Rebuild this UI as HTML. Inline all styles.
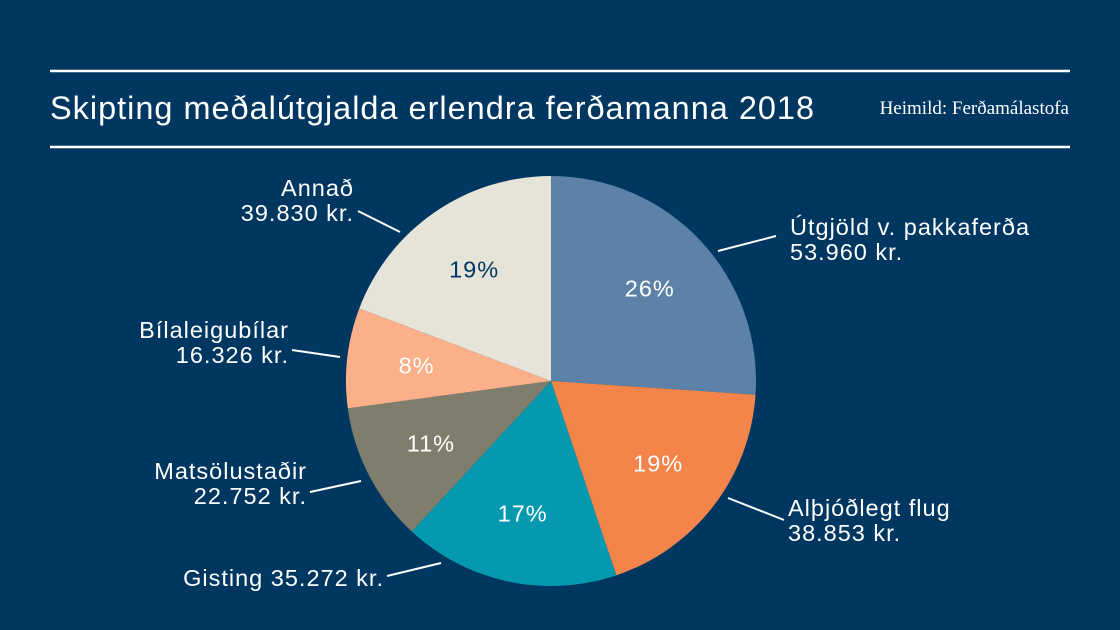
<!DOCTYPE html>
<html><head><meta charset="utf-8"><style>
body{margin:0;background:#003761;width:1120px;height:630px;overflow:hidden}
svg{display:block}
</style></head><body>
<svg width="1120" height="630">
<rect width="1120" height="630" fill="#003761"/>
<line x1="50" y1="71" x2="1070" y2="71" stroke="#fff" stroke-width="2.5"/>
<line x1="50" y1="147" x2="1070" y2="147" stroke="#fff" stroke-width="2.5"/>
<text x="50" y="119" fill="#fff" font-family="Liberation Sans, sans-serif" font-size="32" letter-spacing="1" textLength="765" lengthAdjust="spacingAndGlyphs">Skipting meðalútgjalda erlendra ferðamanna 2018</text>
<text x="1069" y="114" fill="#fff" text-anchor="end" font-family="Liberation Serif, serif" font-size="19">Heimild: Ferðamálastofa</text>
<g id="pie"></g>
<g id="labels" font-family="Liberation Sans, sans-serif" font-size="23.5" letter-spacing="1" fill="#fff"></g>
</svg>
<script>
const categories=["Útgjöld v. pakkaferða","Alþjóðlegt flug","Gisting","Matsölustaðir","Bílaleigubílar","Annað"];
const values=[53960,38853,35272,22752,16326,39830];
const valueLabels=["53.960 kr.","38.853 kr.","35.272 kr.","22.752 kr.","16.326 kr.","39.830 kr."];
const colors=["#5c83a7","#f4854a","#0499ae","#7f7e6c","#fbb089","#e6e3d8"];
const pctColors=["#fff","#fff","#fff","#fff","#fff","#003761"];
const cx=551,cy=381,R=205;
const ns="http://www.w3.org/2000/svg";
const total=values.reduce((a,b)=>a+b,0);
const pie=document.getElementById('pie'),lab=document.getElementById('labels');
function pt(a,r){return [cx+r*Math.sin(a),cy-r*Math.cos(a)];}
let a0=0;
values.forEach((v,i)=>{
 const a1=a0+v/total*2*Math.PI;
 const p0=pt(a0,R),p1=pt(a1,R);
 const p=document.createElementNS(ns,'path');
 p.setAttribute('d',`M${cx},${cy}L${p0[0]},${p0[1]}A${R},${R} 0 ${a1-a0>Math.PI?1:0} 1 ${p1[0]},${p1[1]}Z`);
 p.setAttribute('fill',colors[i]);
 
 
 pie.appendChild(p);
 const m=(a0+a1)/2,c=pt(m,R*0.66);
 const t=document.createElementNS(ns,'text');
 t.setAttribute('x',c[0]);t.setAttribute('y',c[1]+8);
 t.setAttribute('text-anchor','middle');t.setAttribute('fill',pctColors[i]);
 t.textContent=Math.round(v/total*100)+'%';
 
 
 lab.appendChild(t);
 a0=a1;
});
const ext=[
 {lines:[categories[0],valueLabels[0]],anchor:'start',x:790,y:235,l:[718,251,776,236]},
 {lines:[categories[1],valueLabels[1]],anchor:'start',x:788,y:516,l:[728,498,784,520]},
 {lines:[categories[2]+' '+valueLabels[2]],anchor:'end',x:384,y:586,l:[387,576,441,563]},
 {lines:[categories[3],valueLabels[3]],anchor:'end',x:307,y:479,l:[310,492,361,481]},
 {lines:[categories[4],valueLabels[4]],anchor:'end',x:289,y:338,l:[292,350,340,357]},
 {lines:[categories[5],valueLabels[5]],anchor:'end',x:354,y:196,l:[358,211,400,232]}
];
ext.forEach((e,i)=>{
 const ln=document.createElementNS(ns,'line');
 ln.setAttribute('x1',e.l[0]);ln.setAttribute('y1',e.l[1]);ln.setAttribute('x2',e.l[2]);ln.setAttribute('y2',e.l[3]);
 ln.setAttribute('stroke','#fff');ln.setAttribute('stroke-width','2');
 
 
 lab.appendChild(ln);
 e.lines.forEach((s,j)=>{
  const t=document.createElementNS(ns,'text');
  t.setAttribute('x',e.x);t.setAttribute('y',e.y+j*25);t.setAttribute('text-anchor',e.anchor);
  t.textContent=s;
  
  
  lab.appendChild(t);
 });
});
</script>
</body></html>
